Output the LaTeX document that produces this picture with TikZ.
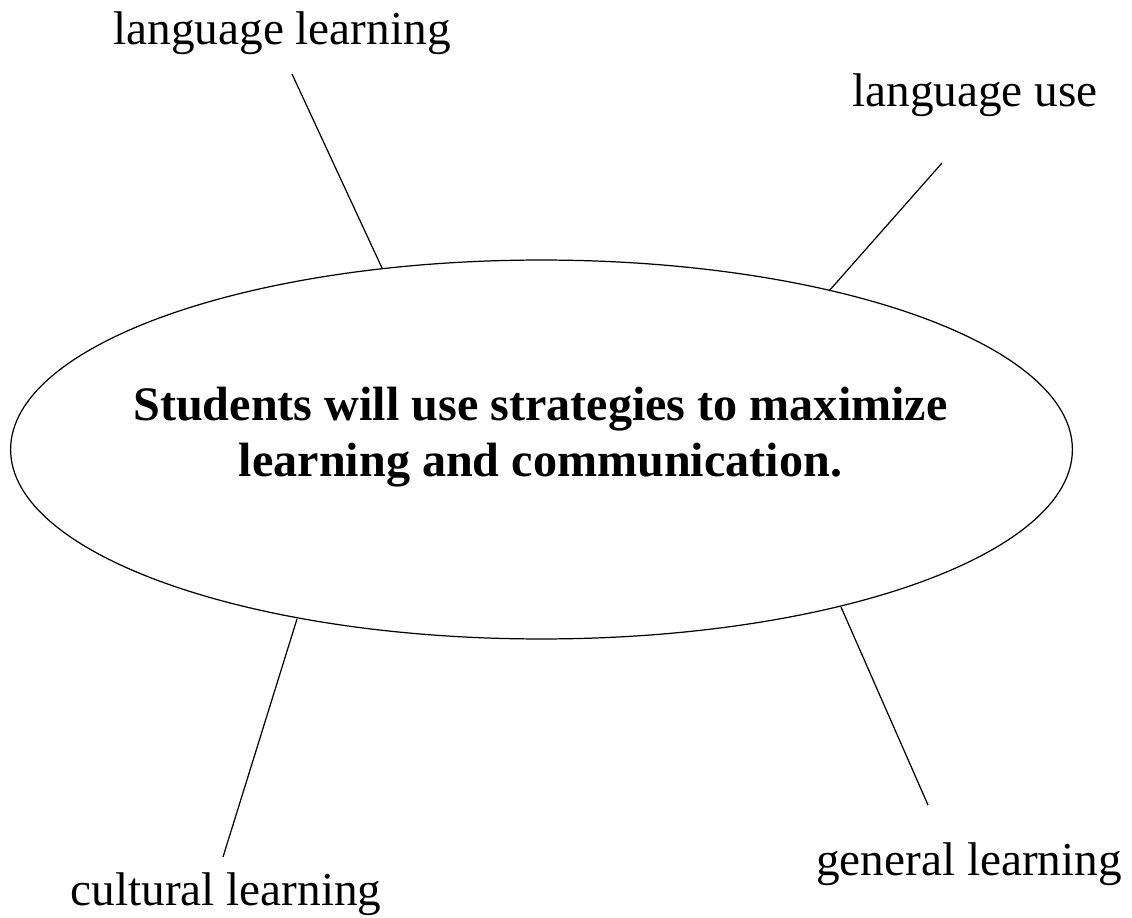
\documentclass[tikz,border=0pt]{standalone}
\usepackage{fontspec}
\setmainfont{Liberation Serif}
\usetikzlibrary{shapes.geometric}
\begin{document}
\begin{tikzpicture}[x=0.02cm,y=-0.02cm,
  label/.style={font=\fontsize{26.9}{32}\selectfont, inner sep=0pt, anchor=base},
  goalline/.style={font=\bfseries\fontsize{27.4}{32}\selectfont, inner sep=0pt, anchor=base},
  link/.style={draw=black, line width=0.7pt}]
\useasboundingbox (0,0) rectangle (1132,918);
\node[ellipse, draw, line width=0.7pt, minimum width=21.24cm, minimum height=7.58cm, inner sep=0pt] (goal) at (541.5,449.5) {};
\node[goalline] (goaltexta) at (540.5,421) {Students will use strategies to maximize};
\node[goalline] (goaltextb) at (540.5,477) {learning and communication.};
\node[label] (ll) at (282,45) {language learning};
\node[label] (lu) at (975,107) {language use};
\node[label] (gl) at (969,875) {general learning};
\node[label] (cl) at (226,905) {cultural learning};
\coordinate (llE) at (292,74);  \coordinate (llS) at (382,268);
\coordinate (luE) at (942,163); \coordinate (luS) at (829,291);
\coordinate (glE) at (928,805); \coordinate (glS) at (841,607);
\coordinate (clE) at (223,857); \coordinate (clS) at (297,619);
\draw[link] (llE) -- (llS);
\draw[link] (luE) -- (luS);
\draw[link] (glS) -- (glE);
\draw[link] (clS) -- (clE);
\end{tikzpicture}
\end{document}
